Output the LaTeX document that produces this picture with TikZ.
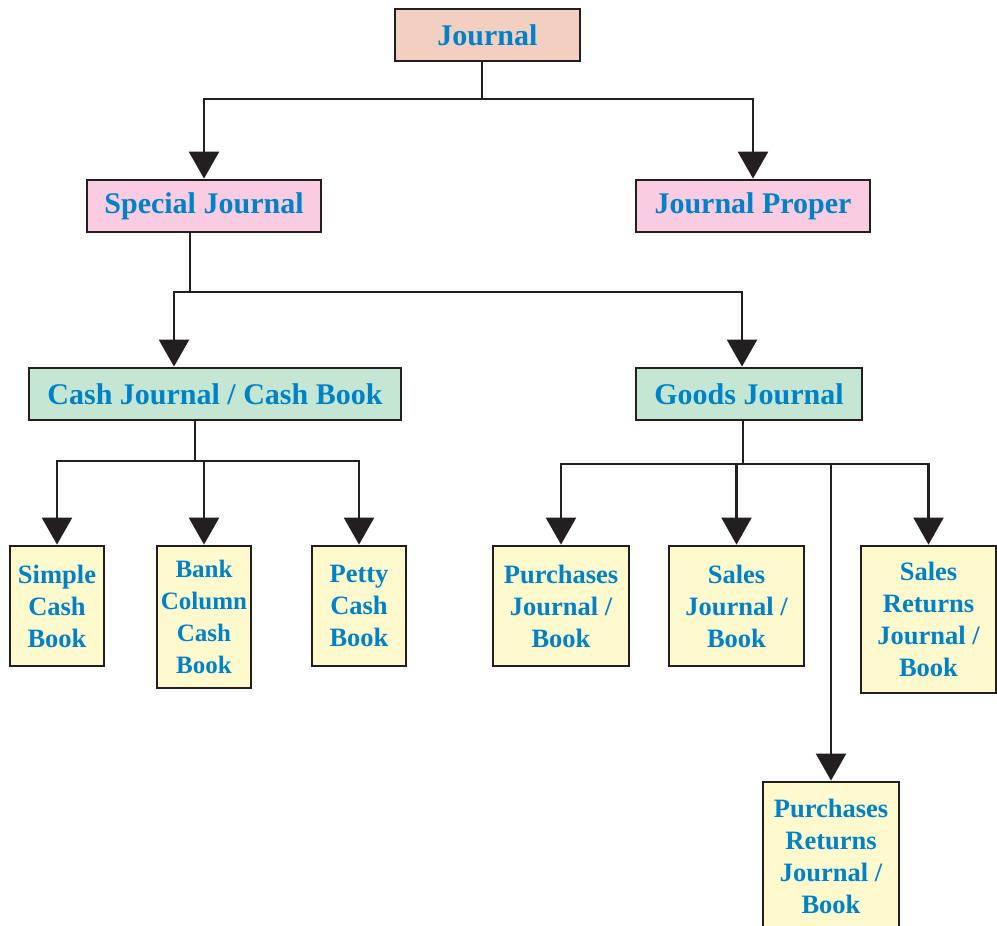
\documentclass[tikz,border=0pt]{standalone}
\usepackage{fontspec}
\setmainfont{Liberation Serif}
\usetikzlibrary{arrows.meta}

\definecolor{labelblue}{RGB}{0,130,200}
\definecolor{inkline}{RGB}{35,31,32}
\definecolor{journalsalmon}{RGB}{242,207,192}
\definecolor{specialpink}{RGB}{249,204,226}
\definecolor{groupgreen}{RGB}{197,230,210}
\definecolor{leafyellow}{RGB}{255,250,205}

\tikzset{
  box/.style={draw=inkline, line width=2.8pt, text=labelblue, inner sep=0pt, align=center},
  headbox/.style={box, minimum height=52, font=\bfseries\fontsize{30}{34}\selectfont},
  leafbox/.style={box, fill=leafyellow, font=\bfseries\fontsize{26.5}{32}\selectfont},
  link/.style={draw=inkline, line width=2.3pt},
  arr/.style={link, -{Triangle[width=30pt,length=27pt]}}
}

\begin{document}
\begin{tikzpicture}[x=1pt,y=-1pt]
  \useasboundingbox (0,0) rectangle (997,926);

  % top two levels
  \node[headbox, fill=journalsalmon, minimum width=185] (journal) at (487.5,35) {Journal};
  \node[headbox, fill=specialpink, minimum width=234] (special) at (204,206) {Special Journal};
  \node[headbox, fill=specialpink, minimum width=234] (proper) at (753,206) {Journal Proper};

  \coordinate (jbus) at (482,99);
  \draw[link] (journal.south -| jbus) -- (jbus);
  \draw[arr] (jbus) -| (special.north);
  \draw[arr] (jbus) -| (proper.north);

  % special journal split
  \node[headbox, fill=groupgreen, minimum width=372] (cash) at (215,394) {Cash Journal / Cash Book};
  \node[headbox, fill=groupgreen, minimum width=226] (goods) at (749,394) {Goods Journal};

  \coordinate (sbus) at (190,292);
  \coordinate (sleft) at (174,292);
  \coordinate (sright) at (742,292);
  \draw[link] (special.south -| sbus) -- (sbus);
  \draw[arr] (sbus) -| (sleft |- cash.north);
  \draw[arr] (sbus) -| (sright |- goods.north);

  % cash books
  \node[leafbox, minimum width=94, minimum height=120] (simple) at (57,606) {Simple\\Cash\\Book};
  \node[leafbox, minimum width=94, minimum height=142, font=\bfseries\fontsize{25}{32}\selectfont] (bank) at (204,617) {Bank\\Column\\Cash\\Book};
  \node[leafbox, minimum width=94, minimum height=120] (petty) at (359,606) {Petty\\Cash\\Book};

  \coordinate (cbus) at (195,461);
  \draw[link] (cash.south -| cbus) -- (cbus);
  \foreach \leaf in {simple,bank,petty}
    \draw[arr] (cbus) -| (\leaf.north);

  % goods books
  \node[leafbox, minimum width=136, minimum height=120] (purch) at (561,606) {Purchases\\Journal /\\Book};
  \node[leafbox, minimum width=135, minimum height=120] (sales) at (736.5,606) {Sales\\Journal /\\Book};
  \node[leafbox, minimum width=135, minimum height=147] (salesret) at (928.5,619.5) {Sales\\Returns\\Journal /\\Book};
  \node[leafbox, minimum width=136, minimum height=148] (purret) at (831,856) {Purchases\\Returns\\Journal /\\Book};

  \coordinate (gbus) at (743,464);
  \draw[link] (goods.south -| gbus) -- (gbus);
  \foreach \leaf in {purch,sales,salesret,purret}
    \draw[arr] (gbus) -| (\leaf.north);
\end{tikzpicture}
\end{document}
